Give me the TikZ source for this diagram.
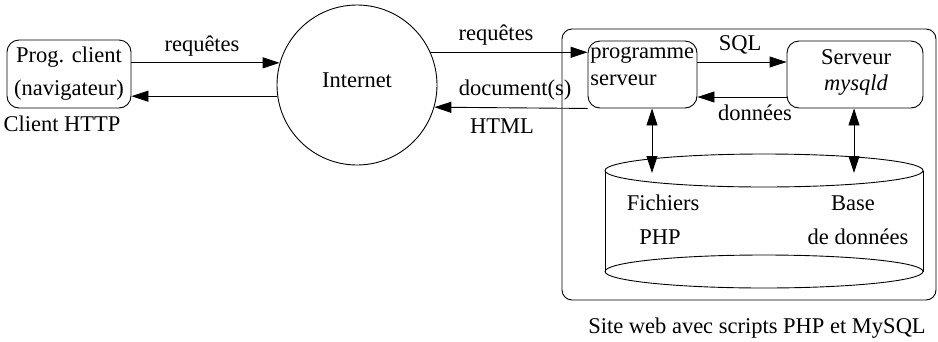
\documentclass[tikz,border=0pt]{standalone}
\usepackage{fontspec}
\setmainfont{Liberation Serif}
\usetikzlibrary{arrows.meta,calc}
\begin{document}
\begin{tikzpicture}[x=1pt,y=-1pt,
  every node/.style={font=\fontsize{22.5pt}{26pt}\selectfont, inner sep=0pt},
  box/.style={draw, rounded corners=12pt, line width=0.9pt},
  conn/.style={line width=0.9pt, -{Triangle[length=17pt,width=11pt]}},
  dconn/.style={line width=0.9pt, {Triangle[length=17pt,width=11pt]}-{Triangle[length=17pt,width=11pt]}},
  line width=0.9pt]
\useasboundingbox (0,0) rectangle (938,341);
% outer site box
\node[box, rounded corners=10pt, minimum width=374pt, minimum height=271pt] (site) at (749,164.5) {};
% client
\node[box, minimum width=124pt, minimum height=68pt] (client) at (69,74) {};
\node (cl1) at (69,57) {Prog. client};
\node (cl2) at (69,90) {(navigateur)};
\node (clientlbl) at (62,124) {Client HTTP};
% internet
\node[draw, circle, minimum size=160pt, line width=0.9pt] (inet) at (357,85) {};
\node (inettxt) at (357,80) {Internet};
% programme serveur
\node[box, minimum width=109pt, minimum height=67pt] (ps) at (642.5,74.5) {};
\node[anchor=west] (ps1) at (590,55) {programme};
\node[anchor=west] (ps2) at (590,80) {serveur};
% serveur mysqld
\node[box, minimum width=136pt, minimum height=67pt] (sv) at (855,74.5) {};
\node (sv1) at (856,57) {Serveur};
\node (sv2) at (856,85) {\itshape mysqld};
% cylinder
\coordinate (cyl) at (764,170.5);
\coordinate (cylb) at (764,271.5);
\draw (cyl) ellipse [x radius=159, y radius=16.5];
\draw (cylb) ellipse [x radius=159, y radius=16.5];
\draw ($(cyl)+(-159,0)$) -- ($(cylb)+(-159,0)$);
\draw ($(cyl)+(159,0)$) -- ($(cylb)+(159,0)$);
\node (f1) at (663,203) {Fichiers};
\node (f2) at (660,237) {PHP};
\node (b1) at (853,203) {Base};
\node (b2) at (858,237) {de données};
% connectors client <-> internet
\draw[conn] (inet.164 -| client.east) -- (inet.164);
\draw[conn] (inet.188.6) -- (inet.188.6 -| client.east);
\node (req1) at (202,46) {requêtes};
% internet <-> programme serveur
\draw[conn] (inet.24.4) -- (inet.24.4 -| ps.west);
\node (req2) at (496,35) {requêtes};
\draw[conn] (ps.south west) -- (inet.-16.7);
\node (doc) at (515,90) {document(s)};
\node (html) at (502,126) {HTML};
% programme serveur <-> serveur
\draw[conn] ([yshift=12.5pt]ps.east) -- ([yshift=12.5pt]sv.west);
\node (sql) at (740,45) {SQL};
\draw[conn] ([yshift=-22.5pt]sv.west) -- ([yshift=-22.5pt]ps.east);
\node (donn) at (755,113) {données};
% vertical double arrows
\coordinate (lt) at (652,173);
\coordinate (rt) at (854,173);
\draw[dconn] ([xshift=9.5pt]ps.south) -- (lt);
\draw[dconn] ([xshift=-1pt]sv.south) -- (rt);
% caption
\node (cap) at (757,328) {Site web avec scripts PHP et MySQL};
\end{tikzpicture}
\end{document}
